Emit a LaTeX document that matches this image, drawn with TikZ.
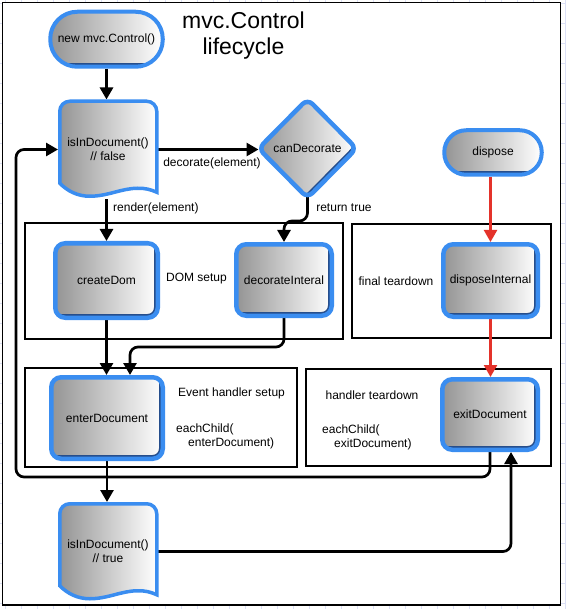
\documentclass[tikz,border=0pt]{standalone}
\usepackage{fontspec}
\setmainfont{Liberation Sans}
\usetikzlibrary{arrows.meta,shapes.geometric}

\definecolor{nodeblue}{RGB}{58,141,240}
\definecolor{navyshade}{RGB}{38,78,140}
\definecolor{shadegray}{RGB}{148,148,148}
\definecolor{gridblue}{RGB}{220,224,246}
\definecolor{flowred}{RGB}{228,50,42}

\pgfdeclarelayer{paper}
\pgfdeclarelayer{edges}
\pgfsetlayers{paper,edges,main}

\tikzset{
  lbl/.style={font=\fontsize{12}{14}\selectfont, inner sep=0pt},
  basenode/.style={draw=nodeblue, line width=4.5pt, left color=shadegray, right color=white,
    font=\fontsize{12}{14}\selectfont, align=center, inner sep=0pt},
  procbox/.style={basenode, rectangle, rounded corners=10pt,
    path picture={\draw[navyshade, line width=7.5pt]
      (path picture bounding box.south west) -- (path picture bounding box.south east)
      -- (path picture bounding box.north east);}},
  terminal/.style={basenode, line width=4pt, rectangle, rounded corners=#1,
    path picture={\draw[navyshade, line width=7pt]
      (path picture bounding box.south west) -- (path picture bounding box.south east);}},
  decision/.style={basenode, diamond, aspect=1, rounded corners=7pt, outer sep=0pt,
    path picture={\draw[navyshade, line width=7.5pt]
      (path picture bounding box.east) -- (path picture bounding box.south);}},
  docshape/.style={draw=nodeblue, line width=3.5pt, left color=shadegray, right color=white},
  doctext/.style={font=\fontsize{12}{14}\selectfont, align=center, inner sep=0pt,
    outer sep=0pt, minimum width=100pt},
  groupbox/.style={draw=black, line width=1.1pt},
  gridline/.style={draw=gridblue, line width=0.6pt},
  conn/.style={line width=2.7pt, -{Triangle[width=13pt,length=12pt]}, rounded corners=8pt},
  redconn/.style={line width=2.3pt, draw=flowred, -{Triangle[width=13pt,length=12pt]}, flowred},
}

% flowchart "document" outline: #1 = left x, #2 = top y of the border path
\newcommand\docoutline[2]{%
  \path[docshape] (#1,{#2+82}) -- (#1,{#2+10})
    .. controls (#1,{#2+4.48}) and ({#1+4.48},#2) .. ({#1+10},#2)
    -- ({#1+87},#2)
    .. controls ({#1+92.52},#2) and ({#1+97},{#2+4.48}) .. ({#1+97},{#2+10})
    -- ({#1+97},{#2+91})
    .. controls ({#1+90},{#2+88}) and ({#1+86},{#2+87}) .. ({#1+78},{#2+87})
    .. controls ({#1+62},{#2+87}) and ({#1+48},{#2+95}) .. ({#1+30},{#2+95})
    .. controls ({#1+18},{#2+95}) and ({#1+8},{#2+90}) .. (#1,{#2+82}) -- cycle;}

\begin{document}
\begin{tikzpicture}[x=1pt,y=-1pt]
\useasboundingbox (0,0) rectangle (566,609);

% paper: faint grid, white sheet, group boxes
\begin{pgfonlayer}{paper}
  \foreach \gx in {5,21,...,565} \draw[gridline] (\gx,0) -- (\gx,609);
  \foreach \gy in {3,23,...,609} \draw[gridline] (0,\gy) -- (566,\gy);
  \draw[black, line width=1.3pt, fill=white] (2.5,2.5) rectangle (560.5,605);
  \draw[groupbox] (25,223) rectangle (343,339);
  \draw[groupbox] (352,224) rectangle (551,338);
  \draw[groupbox] (25,368) rectangle (297,467);
  \draw[groupbox] (306,369) rectangle (551,466);
\end{pgfonlayer}

% title
\node[font=\fontsize{23}{26}\selectfont, align=center] (title) at (243.5,36) {mvc.Control\\lifecycle};

% nodes
\node[terminal=27pt, minimum width=112.5pt, minimum height=55pt] (new) at (106.5,39.25) {new mvc.Control()};
\docoutline{59.75}{101.25}
\node[doctext, minimum height=100pt] (isF) at (108,149.5) {isInDocument()\\// false};
\node[decision, minimum width=98pt, minimum height=99pt] (canD) at (307.5,148.5) {canDecorate};
\node[terminal=22pt, minimum width=97.5pt, minimum height=44.5pt] (dispose) at (493,152.5) {dispose};
\node[procbox, minimum width=102.5pt, minimum height=74.5pt] (createDom) at (106.5,280.5) {createDom};
\node[procbox, minimum width=95.5pt, minimum height=71.5pt] (decInt) at (284,280) {decorateInteral};
\node[procbox, minimum width=94.5pt, minimum height=72.5pt] (dispInt) at (490.5,280.5) {disposeInternal};
\node[procbox, minimum width=111.5pt, minimum height=81.5pt] (enterD) at (107,418) {enterDocument};
\node[procbox, minimum width=95.5pt, minimum height=70.5pt] (exitD) at (490,414.5) {exitDocument};
\docoutline{59.75}{503.75}
\node[doctext, minimum height=99pt] (isT) at (108,551.5) {isInDocument()\\// true};

% labels
\node[lbl] (decolbl) at (212,163) {decorate(element)};
\node[lbl, anchor=west] (renderlbl) at (113,208) {render(element)};
\node[lbl] (retlbl) at (344,208) {return true};
\node[lbl] (domlbl) at (196.5,279) {DOM setup};
\node[lbl] (finlbl) at (396,281) {final teardown};
\node[lbl] (evlbl) at (231.5,393) {Event handler setup};
\node[lbl, anchor=west, align=left] (eclbl) at (176,436) {eachChild(\\\hspace*{12pt}enterDocument)};
\node[lbl] (htlbl) at (372,395) {handler teardown};
\node[lbl, anchor=west, align=left] (exlbl) at (322,437.5) {eachChild(\\\hspace*{12pt}exitDocument)};

% bend points
\coordinate (rtbend) at (0,221);
\coordinate (dibend) at (130,347);
\coordinate (xbend) at (511,0);
\coordinate (loopbend) at (16,477);

% connectors
\begin{pgfonlayer}{edges}
  \draw[conn] (new.south) -- (new.south |- isF.north);
  \draw[conn] (isF.east) -- (isF.east -| canD.west);
  \draw[conn] (createDom.north |- isF.south) -- (createDom.north);
  \draw[conn] (canD.center) -- (canD.center |- rtbend) -| (decInt.north);
  \draw[conn] (createDom.south) -- (createDom.south |- enterD.north);
  \draw[conn] (decInt.south) |- (dibend) -- (dibend |- enterD.north);
  \draw[conn] (enterD.south) -- (enterD.south |- isT.north);
  \draw[conn] (isT.east) -- (isT.east -| xbend) -- (xbend |- exitD.south);
  \draw[conn] (exitD.south) |- (loopbend) |- (isF.west);
  \draw[redconn] (dispInt.north |- dispose.south) -- (dispInt.north);
  \draw[redconn] (dispInt.south) -- (dispInt.south |- exitD.north);
\end{pgfonlayer}
\end{tikzpicture}
\end{document}
